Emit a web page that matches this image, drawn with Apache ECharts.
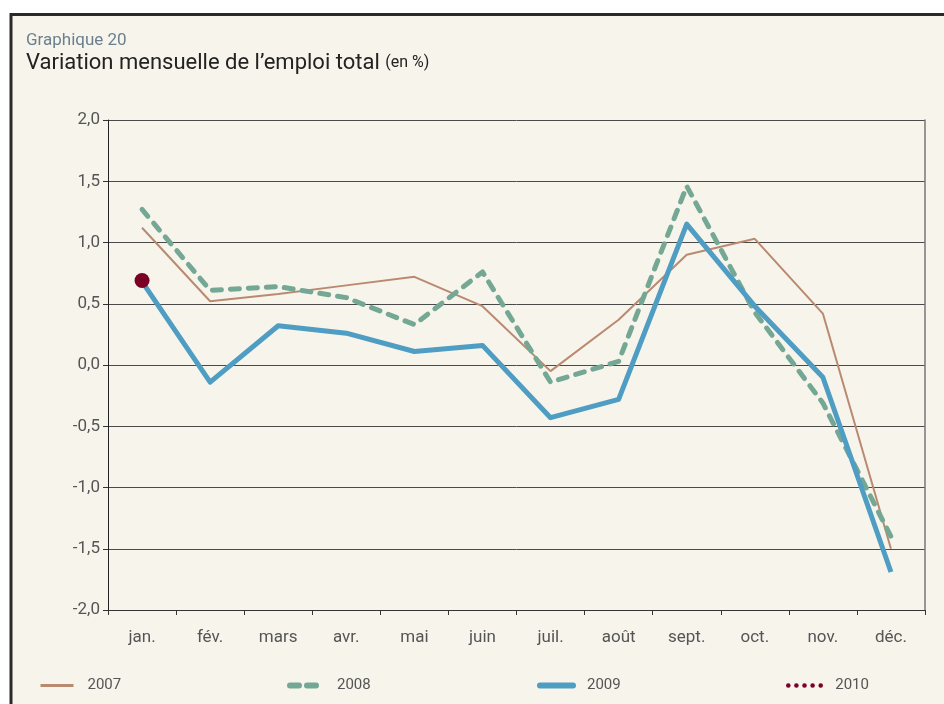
<!DOCTYPE html>
<html>
<head>
<meta charset="utf-8">
<script src="https://cdn.jsdelivr.net/npm/echarts@6/dist/echarts.min.js"></script>
<style>
html,body{margin:0;padding:0;background:#fff;}
#c{width:944px;height:704px;}
</style>
</head>
<body>
<div id="c"></div>
<script>
const months = ['jan.','fév.','mars','avr.','mai','juin','juil.','août','sept.','oct.','nov.','déc.'];
const s2007 = [1.12, 0.52, 0.58, 0.65, 0.72, 0.48, -0.05, 0.37, 0.90, 1.03, 0.42, -1.50];
const s2008 = [1.27, 0.61, 0.64, 0.55, 0.33, 0.76, -0.14, 0.03, 1.46, 0.43, -0.31, -1.40];
const s2009 = [0.68, -0.14, 0.32, 0.26, 0.11, 0.16, -0.43, -0.28, 1.15, 0.48, -0.10, -1.69];
const s2010 = [0.69, null, null, null, null, null, null, null, null, null, null, null];
const yTicks = {min: -2, max: 2, interval: 0.5};

const FONT = 'Roboto';
const C07 = '#b98a70', C08 = '#74a894', C09 = '#4f9dc3', C10 = '#7b0025';
const chart = echarts.init(document.getElementById('c'));
const legendCommon = {
  top: 678, itemWidth: 33, itemHeight: 14, itemGap: 14, padding: 0,
  textStyle: {fontFamily: FONT, fontSize: 15, color: '#555', padding: [0, 0, 0, 9]},
  selectedMode: false
};
chart.setOption({
  backgroundColor: '#ffffff',
  animation: false,
  graphic: [{
    type: 'rect', z: -10, silent: true,
    shape: {x: 11, y: 14.5, width: 940, height: 700},
    style: {fill: '#f7f4ec', stroke: '#2a2a2a', lineWidth: 3}
  }],
  title: [
    {text: 'Graphique 20', left: 21, top: 27,
     textStyle: {fontFamily: FONT, fontSize: 17, fontWeight: 'normal', color: '#6b7f8e'}},
    {text: 'Variation mensuelle de l’emploi total {s|(en %)}', left: 21, top: 47,
     textStyle: {fontFamily: FONT, fontSize: 22, fontWeight: 'normal', color: '#222',
       rich: {s: {fontFamily: FONT, fontSize: 16, color: '#222'}}}}
  ],
  legend: [
    Object.assign({left: 39, data: [{name: '2007', itemStyle: {opacity: 0},
      lineStyle: {width: 3, color: C07}}]}, legendCommon),
    Object.assign({left: 287, data: [{name: '2008', itemStyle: {opacity: 0},
      lineStyle: {width: 6, color: C08, type: [9, 8], cap: 'round'}}]}, legendCommon),
    Object.assign({left: 537, data: [{name: '2009', itemStyle: {opacity: 0},
      lineStyle: {width: 6, color: C09, cap: 'round'}}]}, legendCommon),
    Object.assign({left: 786, data: [{name: '2010', itemStyle: {opacity: 0},
      lineStyle: {width: 4.5, color: C10, type: [0.1, 8], cap: 'round'}}]}, legendCommon)
  ],
  grid: {left: 108, right: 19, top: 120, bottom: 94},
  xAxis: {
    type: 'category', data: months, boundaryGap: true,
    axisLine: {onZero: false, lineStyle: {color: '#333', width: 1}},
    axisTick: {show: true, length: 5, lineStyle: {color: '#333'}},
    axisLabel: {fontFamily: FONT, fontSize: 17, color: '#555', margin: 19}
  },
  yAxis: [{
    type: 'value', min: yTicks.min, max: yTicks.max, interval: yTicks.interval,
    axisLine: {show: true, lineStyle: {color: '#222', width: 1}},
    axisTick: {show: true, length: 5, lineStyle: {color: '#333'}},
    splitLine: {show: true, lineStyle: {color: '#4a4a4a', width: 1}},
    axisLabel: {fontFamily: FONT, fontSize: 17, color: '#555', margin: 8,
      formatter: v => v.toFixed(1).replace('.', ',')}
  }, {
    type: 'value', position: 'right', min: yTicks.min, max: yTicks.max, interval: yTicks.interval,
    axisLine: {show: true, lineStyle: {color: '#777', width: 1.5}},
    axisTick: {show: false}, axisLabel: {show: false}, splitLine: {show: false}
  }],
  series: [
    {name: '2007', type: 'line', data: s2007, symbol: 'none', color: C07,
     lineStyle: {width: 2, color: C07}},
    {name: '2008', type: 'line', data: s2008, symbol: 'none', color: C08,
     lineStyle: {width: 5, color: C08, type: [9, 9], cap: 'round', join: 'round'}},
    {name: '2009', type: 'line', data: s2009, symbol: 'none', color: C09,
     lineStyle: {width: 5, color: C09, join: 'round'}},
    {name: '2010', type: 'line', data: s2010, symbol: 'circle', symbolSize: 15, showSymbol: true,
     color: C10, itemStyle: {color: C10},
     lineStyle: {width: 4.5, color: C10, type: [0.1, 6.5], cap: 'round'}}
  ]
});
</script>
</body>
</html>
